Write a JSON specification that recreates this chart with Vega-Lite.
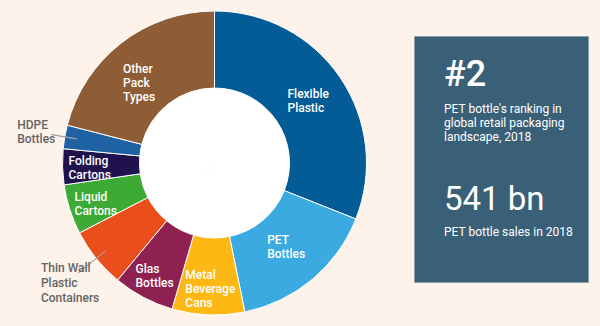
{
  "$schema": "https://vega.github.io/schema/vega-lite/v6.json",
  "background": "#FDF3EA",
  "padding": {"left": 16, "top": 0, "right": 0, "bottom": 0},
  "spacing": 0,
  "config": {"view": {"stroke": null}, "font": "Roboto"},
  "datasets": {
    "packaging": [
      {"order": 1, "category": "Flexible Plastic", "label": "Flexible\nPlastic", "share": 31.0},
      {"order": 2, "category": "PET Bottles", "label": "PET\nBottles", "share": 15.8},
      {"order": 3, "category": "Metal Beverage Cans", "label": "Metal\nBeverage\nCans", "share": 7.7},
      {"order": 4, "category": "Glas Bottles", "label": "Glas\nBottles", "share": 6.5},
      {"order": 5, "category": "Thin Wall Plastic Containers", "label": "Thin Wall\nPlastic\nContainers", "share": 6.4},
      {"order": 6, "category": "Liquid Cartons", "label": "Liquid\nCartons", "share": 5.3},
      {"order": 7, "category": "Folding Cartons", "label": "Folding\nCartons", "share": 3.8},
      {"order": 8, "category": "HDPE Bottles", "label": "HDPE\nBottles", "share": 2.5},
      {"order": 9, "category": "Other Pack Types", "label": "Other\nPack\nTypes", "share": 21.0}
    ],
    "facts": [
      {"block": "rank", "text": "#2"},
      {"block": "rankNote", "text": "PET bottle's ranking in\nglobal retail packaging\nlandscape, 2018"},
      {"block": "sales", "text": "541 bn"},
      {"block": "salesNote", "text": "PET bottle sales in 2018"}
    ],
    "blank": [{}]
  },
  "hconcat": [
    {
      "width": 397,
      "height": 326,
      "data": {"name": "packaging"},
      "encoding": {
        "theta": {"field": "share", "type": "quantitative", "stack": true},
        "order": {"field": "order", "type": "quantitative"},
        "detail": {"field": "category", "type": "nominal"}
      },
      "layer": [
        {"mark": {"type": "arc", "innerRadius": 0, "outerRadius": 76, "fill": "#FFFFFF", "stroke": "#FFFFFF", "strokeWidth": 1}},
        {
          "mark": {"type": "arc", "innerRadius": 75, "outerRadius": 152, "stroke": "#FFFFFF", "strokeWidth": 1},
          "encoding": {
            "color": {
              "field": "category",
              "type": "nominal",
              "scale": {
                "domain": ["Flexible Plastic", "PET Bottles", "Metal Beverage Cans", "Glas Bottles", "Thin Wall Plastic Containers", "Liquid Cartons", "Folding Cartons", "HDPE Bottles", "Other Pack Types"],
                "range": ["#035C96", "#3AAAE1", "#FDB813", "#8E2052", "#E94E1B", "#3DAA35", "#20124D", "#1E62A3", "#8E5D35"]
              },
              "legend": null
            }
          }
        },
        {
          "mark": {"type": "arc", "innerRadius": 140, "outerRadius": 166, "padAngle": 0.8, "filled": false, "stroke": "#A3A3A3", "strokeWidth": 1},
          "encoding": {"strokeOpacity": {"condition": {"test": "datum.category === 'HDPE Bottles'", "value": 1}, "value": 0}}
        },
        {
          "mark": {"type": "arc", "innerRadius": 140, "outerRadius": 175, "padAngle": 0.8, "filled": false, "stroke": "#A3A3A3", "strokeWidth": 1},
          "encoding": {"strokeOpacity": {"condition": {"test": "datum.category === 'Thin Wall Plastic Containers'", "value": 1}, "value": 0}}
        },
        {
          "mark": {"type": "text", "radius": 110, "align": "left", "baseline": "middle", "dx": -18, "dy": -7, "fill": "#FFFFFF", "fontSize": 12, "fontWeight": 500, "lineBreak": "\n", "lineHeight": 14},
          "encoding": {
            "text": {"field": "label", "type": "nominal"},
            "opacity": {"condition": {"test": "indexof(['Flexible Plastic','PET Bottles'], datum.category) >= 0", "value": 1}, "value": 0}
          }
        },
        {
          "mark": {"type": "text", "radius": 110, "align": "left", "baseline": "middle", "dx": -24, "dy": -7, "fill": "#FFFFFF", "fontSize": 12, "fontWeight": 500, "lineBreak": "\n", "lineHeight": 14},
          "encoding": {
            "text": {"field": "label", "type": "nominal"},
            "opacity": {"condition": {"test": "datum.category === 'Other Pack Types'", "value": 1}, "value": 0}
          }
        },
        {
          "mark": {"type": "text", "radius": 126, "align": "left", "baseline": "middle", "dx": -20, "dy": -5, "fill": "#FFFFFF", "fontSize": 12, "fontWeight": 500, "lineBreak": "\n", "lineHeight": 14},
          "encoding": {
            "text": {"field": "label", "type": "nominal"},
            "opacity": {"condition": {"test": "indexof(['Glas Bottles','Liquid Cartons','Folding Cartons'], datum.category) >= 0", "value": 1}, "value": 0}
          }
        },
        {
          "mark": {"type": "text", "radius": 126, "align": "left", "baseline": "middle", "dx": -24, "dy": -14, "fill": "#FFFFFF", "fontSize": 12, "fontWeight": 500, "lineBreak": "\n", "lineHeight": 14},
          "encoding": {
            "text": {"field": "label", "type": "nominal"},
            "opacity": {"condition": {"test": "datum.category === 'Metal Beverage Cans'", "value": 1}, "value": 0}
          }
        },
        {
          "mark": {"type": "text", "clip": true, "radius": 182, "align": "left", "baseline": "middle", "dx": -18, "dy": -7, "fill": "#646464", "fontSize": 12, "fontWeight": 500, "lineBreak": "\n", "lineHeight": 14},
          "encoding": {
            "text": {"field": "label", "type": "nominal"},
            "opacity": {"condition": {"test": "datum.category === 'HDPE Bottles'", "value": 1}, "value": 0}
          }
        },
        {
          "mark": {"type": "text", "clip": true, "radius": 187, "align": "left", "baseline": "middle", "dx": -28, "dy": -12, "fill": "#646464", "fontSize": 12, "fontWeight": 500, "lineBreak": "\n", "lineHeight": 15},
          "encoding": {
            "text": {"field": "label", "type": "nominal"},
            "opacity": {"condition": {"test": "datum.category === 'Thin Wall Plastic Containers'", "value": 1}, "value": 0}
          }
        }
      ]
    },
    {
      "spacing": 0,
      "vconcat": [
        {"width": 187, "height": 35, "data": {"name": "blank"}, "mark": {"type": "text"}, "encoding": {}},
        {
          "width": 174,
          "height": 246,
          "view": {"fill": "#3A6078", "stroke": "#8FA1AD", "strokeWidth": 1},
          "data": {"name": "facts"},
          "layer": [
            {
              "transform": [{"filter": "datum.block === 'rank'"}],
              "mark": {"type": "text", "align": "left", "baseline": "alphabetic", "dx": -57, "dy": -73, "fontSize": 36, "fontWeight": 500, "fill": "#FFFFFF"},
              "encoding": {"text": {"field": "text", "type": "nominal"}}
            },
            {
              "transform": [{"filter": "datum.block === 'rankNote'"}],
              "mark": {"type": "text", "align": "left", "baseline": "alphabetic", "dx": -57, "dy": -46, "fontSize": 12, "fontWeight": 400, "fill": "#FFFFFF", "lineBreak": "\n", "lineHeight": 14},
              "encoding": {"text": {"field": "text", "type": "nominal"}}
            },
            {
              "transform": [{"filter": "datum.block === 'sales'"}],
              "mark": {"type": "text", "align": "left", "baseline": "alphabetic", "dx": -57, "dy": 51, "fontSize": 33, "fontWeight": 400, "fill": "#FFFFFF"},
              "encoding": {"text": {"field": "text", "type": "nominal"}}
            },
            {
              "transform": [{"filter": "datum.block === 'salesNote'"}],
              "mark": {"type": "text", "align": "left", "baseline": "alphabetic", "dx": -57, "dy": 77, "fontSize": 12, "fontWeight": 400, "fill": "#FFFFFF"},
              "encoding": {"text": {"field": "text", "type": "nominal"}}
            }
          ]
        }
      ]
    }
  ]
}
